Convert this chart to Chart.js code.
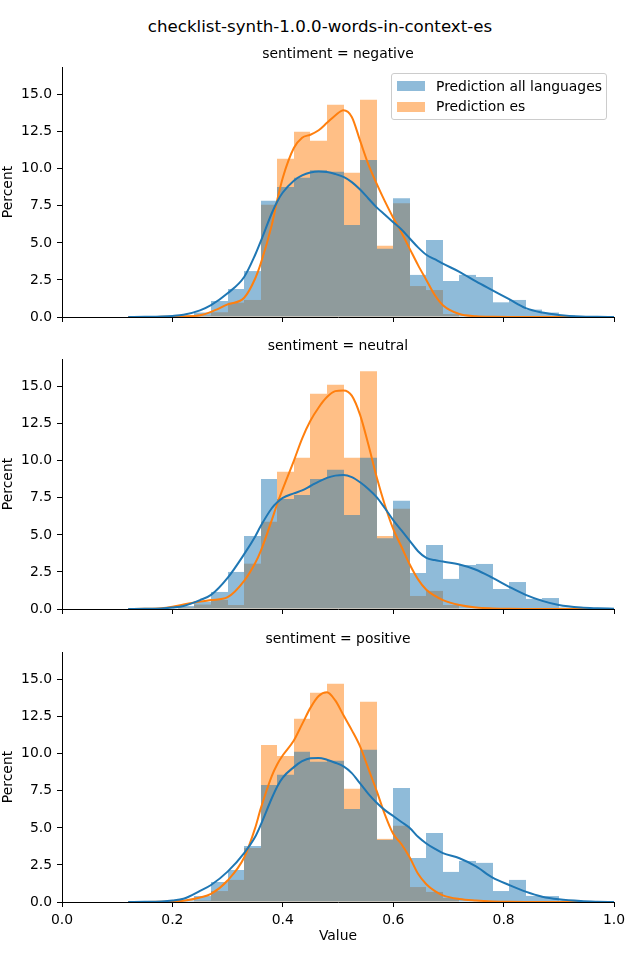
<!DOCTYPE html>
<html><head><meta charset="utf-8">
<script src="https://cdn.jsdelivr.net/npm/chart.js@4.4.0/dist/chart.umd.min.js"></script>
<style>
html,body{margin:0;padding:0;background:#fff;}
body{width:640px;height:960px;position:relative;overflow:hidden;font-family:'DejaVu Sans',sans-serif;color:#000;}
.txt{position:absolute;white-space:nowrap;line-height:1;transform:translate(-50%,-50%);z-index:2;}
canvas{position:absolute;left:0;z-index:1;}
#legend{position:absolute;left:391px;top:73px;width:214px;height:45px;border:1px solid #ccc;border-radius:3px;background:rgba(255,255,255,0.8);z-index:3;font-size:13.9px;}
.lpatch{position:absolute;left:5px;width:28px;height:10px;}
.ltext{position:absolute;left:44px;white-space:nowrap;line-height:1;transform:translateY(-50%);}
</style></head><body>
<div class="txt" style="left:320px;top:27px;font-size:16.67px">checklist-synth-1.0.0-words-in-context-es</div>
<div id="panels"></div>
<div id="legend">
  <div class="lpatch" style="top:7px;background:rgba(31,119,180,0.5)"></div>
  <div class="ltext" style="top:13px" id="lt0"></div>
  <div class="lpatch" style="top:28px;background:rgba(255,127,14,0.5)"></div>
  <div class="ltext" style="top:33px" id="lt1"></div>
</div>
<script>
// ---- data ----
const binLeft = [0.12,0.15,0.18,0.21,0.24,0.27,0.30,0.33,0.36,0.39,0.42,0.45,0.48,0.51,0.54,0.57,0.60,0.63,0.66,0.69,0.72,0.75,0.78,0.81,0.84,0.87,0.90,0.93,0.96,0.99];
const xTicks = [0.0,0.2,0.4,0.6,0.8,1.0];
const yTicks = [0,2.5,5,7.5,10,12.5,15];
const panelTitles = ['sentiment = negative','sentiment = neutral','sentiment = positive'];
const seriesNames = ['Prediction all languages','Prediction es'];

const histAllNeg = [0.05,0.05,0.05,0.1,0.3,1.08,1.89,3.1,7.84,8.78,9.39,9.91,9.8,6.2,10.6,4.6,8.02,2.84,5.2,2.43,2.84,2.7,0.99,1.15,0.5,0.3,0.1,0.05,0.05,0.05];
const histEsNeg  = [0,0,0,0,0.1,0.32,0.97,1.15,7.57,10.68,12.5,11.89,14.32,9.73,14.66,4.8,7.68,2.09,1.82,0.2,0,0,0,0,0,0,0,0,0,0];
const histAllNeu = [0.05,0.05,0.05,0.2,0.5,1.15,2.5,4.93,8.78,7.43,7.7,8.78,9.39,6.35,10.2,4.77,7.3,2.43,4.32,2.03,2.97,3.04,1.35,1.82,0.68,0.74,0.1,0.05,0.05,0.05];
const histEsNeu  = [0,0,0,0.1,0.3,0.61,0.27,3.06,5.88,9.26,10.2,14.53,15.14,10.2,16.05,4.93,6.76,0.88,1.22,0.27,0,0,0,0,0,0,0,0,0,0];
const histAllPos = [0.05,0.05,0.05,0.1,0.4,1.35,2.16,3.78,7.9,8.58,10.14,9.46,9.53,6.28,10.27,4.19,7.7,2.97,4.66,2.03,2.77,2.64,0.74,1.49,0.41,0.4,0.1,0.05,0.05,0.05];
const histEsPos  = [0,0,0,0,0.1,0.74,1.49,3.65,10.6,9.86,12.36,14.12,14.73,7.64,13.51,4.26,5.14,1.01,0.68,0.27,0,0,0,0,0,0,0,0,0,0];

const kdeX = [0.12,0.15,0.18,0.20,0.22,0.25,0.27,0.30,0.33,0.35,0.36,0.38,0.39,0.40,0.42,0.435,0.45,0.465,0.48,0.495,0.51,0.525,0.54,0.555,0.57,0.585,0.60,0.615,0.63,0.645,0.66,0.675,0.69,0.72,0.75,0.78,0.81,0.84,0.87,0.90,0.94,0.97,1.0];
const kdeAllNeg = [0.0,0.01,0.03,0.07,0.15,0.45,0.8,1.6,2.7,4.2,5.1,7.0,7.8,8.4,9.2,9.55,9.75,9.82,9.78,9.65,9.45,9.1,8.6,8.0,7.4,6.9,6.4,5.9,5.3,4.7,4.2,3.9,3.6,3.05,2.4,1.8,1.2,0.6,0.3,0.14,0.03,0.01,0.0];
const kdeEsNeg  = [0,0,0.01,0.02,0.04,0.12,0.35,0.85,1.3,2.6,3.6,6.2,7.9,9.4,11.4,12.1,12.3,12.6,13.1,13.6,13.95,13.5,11.9,10.3,9.0,7.8,6.7,5.7,4.6,3.5,2.5,1.5,0.8,0.2,0.05,0.01,0,0,0,0,0,0,0];
const kdeAllNeu = [0.0,0.01,0.04,0.1,0.2,0.6,0.95,2.1,3.7,4.9,5.6,6.8,7.2,7.5,7.8,8.0,8.3,8.6,8.85,9.0,9.05,8.9,8.55,8.1,7.55,6.8,6.0,5.3,4.6,3.9,3.45,3.3,3.2,3.0,2.65,2.1,1.5,0.95,0.55,0.27,0.1,0.05,0.02];
const kdeEsNeu  = [0,0.01,0.05,0.15,0.3,0.5,0.6,0.8,1.9,3.1,3.9,6.0,7.1,8.1,10.0,11.5,12.7,13.6,14.3,14.7,14.75,14.4,13.1,11.1,8.9,7.0,5.4,4.2,3.0,2.0,1.3,0.9,0.6,0.27,0.1,0.04,0.01,0,0,0,0,0,0];
const kdeAllPos = [0.0,0.01,0.04,0.1,0.22,0.75,1.15,2.05,3.3,4.4,5.2,7.0,7.8,8.4,9.1,9.5,9.7,9.72,9.6,9.4,9.15,8.7,8.0,7.3,6.7,6.2,5.8,5.4,5.0,4.4,3.95,3.6,3.3,2.95,2.4,1.65,1.15,0.7,0.36,0.18,0.06,0.02,0.0];
const kdeEsPos  = [0,0,0.01,0.03,0.08,0.3,0.55,1.45,3.0,5.0,6.3,8.5,9.3,9.9,10.9,12.0,13.1,13.9,14.15,13.6,12.6,11.6,10.5,9.0,7.5,5.9,4.6,3.9,3.0,1.9,1.2,0.75,0.45,0.2,0.1,0.04,0.01,0,0,0,0,0,0];

// ---- layout ----
const BLUE = '#1f77b4', ORANGE = '#ff7f0e';
const BLUE_A = 'rgba(31,119,180,0.5)', ORANGE_A = 'rgba(255,127,14,0.5)';
const FONT = "'DejaVu Sans', sans-serif";
const FS = 13.9;
const plotTops = [67, 359, 652];
const plotH = 250;
const padTop = 10;
const yAxisW = 62;
const rightPad = 26;

Chart.defaults.font.family = FONT;
Chart.defaults.font.size = FS;
Chart.defaults.color = '#000';

document.getElementById('lt0').textContent = seriesNames[0];
document.getElementById('lt1').textContent = seriesNames[1];

// snap bar edges to whole pixels (like matplotlib) so adjacent translucent bars show no seams
const snapBars = {
  id: 'snapBars',
  beforeDatasetDraw(chart, args) {
    const meta = args.meta;
    if (meta.type !== 'bar') return;
    meta.data.forEach(el => {
      if (el._snapped) return;
      const l = Math.round(el.x - el.width / 2);
      const r = Math.round(el.x + el.width / 2);
      el.x = (l + r) / 2;
      el.width = r - l;
      el._snapped = true;
    });
  }
};

const panelsData = [
  [histAllNeg, histEsNeg, kdeAllNeg, kdeEsNeg],
  [histAllNeu, histEsNeu, kdeAllNeu, kdeEsNeu],
  [histAllPos, histEsPos, kdeAllPos, kdeEsPos]
];

const binW = binLeft[1] - binLeft[0];
const toBars = vals => binLeft.map((b, i) => ({x: b + binW / 2, y: vals[i]}));
const toLine = vals => kdeX.map((x, i) => ({x: x, y: vals[i]}));

const host = document.getElementById('panels');
panelsData.forEach((pd, p) => {
  const last = p === panelsData.length - 1;
  const xH = last ? 43 : 12;
  const cv = document.createElement('canvas');
  cv.width = 640; cv.height = padTop + plotH + xH;
  cv.style.top = (plotTops[p] - padTop) + 'px';
  cv.style.width = '640px'; cv.style.height = cv.height + 'px';
  host.appendChild(cv);

  const st = document.createElement('div');
  st.className = 'txt';
  st.style.left = (yAxisW + (640 - rightPad - yAxisW) / 2) + 'px';
  st.style.top = (plotTops[p] - 13) + 'px';
  st.style.fontSize = FS + 'px';
  st.textContent = panelTitles[p];
  document.body.appendChild(st);

  new Chart(cv.getContext('2d'), {
    type: 'bar',
    plugins: [snapBars],
    data: {
      datasets: [
        {type: 'line', label: seriesNames[0] + ' kde', data: toLine(pd[2]), borderColor: BLUE, borderWidth: 2, pointRadius: 0, fill: false, cubicInterpolationMode: 'monotone', order: 0},
        {type: 'line', label: seriesNames[1] + ' kde', data: toLine(pd[3]), borderColor: ORANGE, borderWidth: 2, pointRadius: 0, fill: false, cubicInterpolationMode: 'monotone', order: 0},
        {label: seriesNames[0], data: toBars(pd[0]), backgroundColor: BLUE_A, borderWidth: 0, grouped: false, barPercentage: 1, categoryPercentage: 1, inflateAmount: 0, order: 1},
        {label: seriesNames[1], data: toBars(pd[1]), backgroundColor: ORANGE_A, borderWidth: 0, grouped: false, barPercentage: 1, categoryPercentage: 1, inflateAmount: 0, order: 2}
      ]
    },
    options: {
      responsive: false,
      animation: false,
      devicePixelRatio: 1,
      layout: {padding: {left: 0, right: rightPad, top: padTop, bottom: 0}},
      plugins: {legend: {display: false}, tooltip: {enabled: false}, title: {display: false}},
      scales: {
        x: {
          type: 'linear', min: 0, max: 1, offset: false,
          afterBuildTicks: s => { s.ticks = xTicks.map(v => ({value: v})); },
          afterFit: s => { s.height = xH; s.paddingLeft = 0; s.paddingRight = 0; s.paddingTop = 0; s.paddingBottom = 0; },
          ticks: {display: last, padding: 5, color: '#000', font: {size: FS}, maxRotation: 0, autoSkip: false, callback: v => Number(v).toFixed(1)},
          grid: {display: true, offset: false, drawOnChartArea: false, drawTicks: true, tickLength: 5, color: '#000', tickColor: '#000', lineWidth: 1},
          border: {display: true, color: '#000', width: 1},
          title: {display: last, text: 'Value', color: '#000', font: {size: FS}, padding: 0}
        },
        y: {
          type: 'linear', min: 0, max: 16.87,
          afterBuildTicks: s => { s.ticks = yTicks.map(v => ({value: v})); },
          afterFit: s => { s.width = yAxisW; s.paddingTop = 0; s.paddingBottom = 0; s.paddingLeft = 0; s.paddingRight = 0; },
          ticks: {padding: 5, color: '#000', font: {size: FS}, autoSkip: false, callback: v => Number(v).toFixed(1)},
          grid: {display: true, offset: false, drawOnChartArea: false, drawTicks: true, tickLength: 5, color: '#000', tickColor: '#000', lineWidth: 1},
          border: {display: true, color: '#000', width: 1},
          title: {display: true, text: 'Percent', color: '#000', font: {size: FS}, padding: 0}
        }
      }
    }
  });
});
</script>
</body></html>
